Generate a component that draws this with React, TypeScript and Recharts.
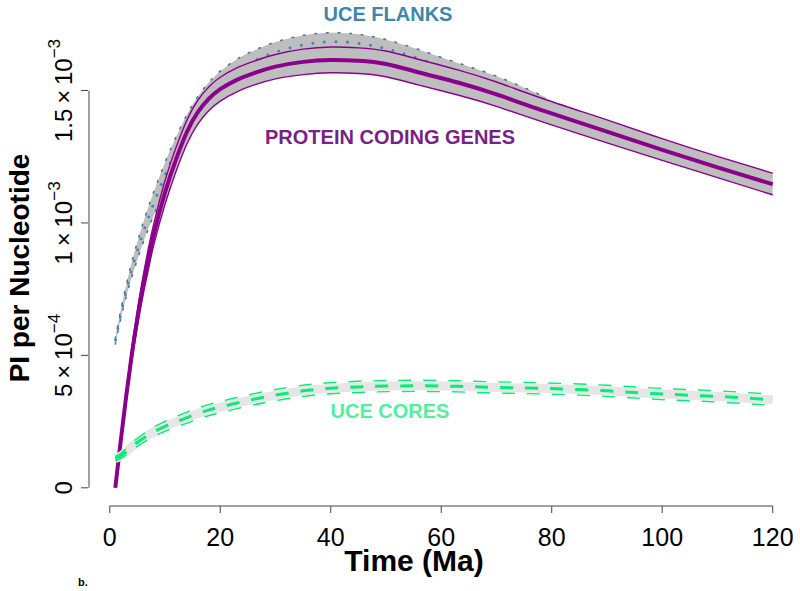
import React from 'react';
import { ComposedChart, Line, Area, XAxis, YAxis, ReferenceLine } from 'recharts';

// Time (Ma)
const times = [1, 2, 3, 4, 5, 6, 7, 8, 10, 12, 14, 16, 18, 20, 23, 26, 30, 35, 40, 45, 50, 56, 63, 70, 79, 90, 100, 110, 120];

// Protein coding genes (PI per nucleotide, in units of 1e-3)
const protMid = [0, 0.18, 0.35, 0.505, 0.64, 0.76, 0.865, 0.96, 1.115, 1.24, 1.345, 1.42, 1.47, 1.505, 1.54, 1.565, 1.59, 1.608, 1.615, 1.612, 1.6, 1.568, 1.53, 1.485, 1.42, 1.345, 1.276, 1.21, 1.146];
const protUp = [0, 0.19, 0.37, 0.53, 0.67, 0.795, 0.905, 1.0, 1.16, 1.285, 1.39, 1.465, 1.515, 1.55, 1.585, 1.61, 1.636, 1.656, 1.664, 1.661, 1.649, 1.617, 1.578, 1.532, 1.465, 1.389, 1.318, 1.251, 1.188];
const protLo = [0, 0.17, 0.33, 0.48, 0.61, 0.725, 0.825, 0.92, 1.07, 1.195, 1.3, 1.375, 1.425, 1.46, 1.495, 1.52, 1.544, 1.56, 1.567, 1.564, 1.552, 1.52, 1.483, 1.44, 1.377, 1.302, 1.236, 1.171, 1.106];

// UCE flanks (units of 1e-3), t = 1 .. 79
const flMid = [0.553, 0.655, 0.745, 0.825, 0.895, 0.96, 1.02, 1.075, 1.18, 1.275, 1.36, 1.43, 1.485, 1.528, 1.575, 1.61, 1.645, 1.672, 1.684, 1.678, 1.658, 1.62, 1.57, 1.52, 1.44];
const flUp = [0.563, 0.671, 0.767, 0.853, 0.928, 0.997, 1.061, 1.119, 1.228, 1.325, 1.41, 1.479, 1.532, 1.573, 1.618, 1.65, 1.683, 1.708, 1.718, 1.712, 1.692, 1.654, 1.604, 1.554, 1.474];
const flLo = [0.543, 0.639, 0.723, 0.797, 0.862, 0.923, 0.979, 1.031, 1.132, 1.225, 1.31, 1.381, 1.438, 1.483, 1.532, 1.57, 1.607, 1.636, 1.65, 1.644, 1.624, 1.586, 1.536, 1.486, 1.406];

// UCE cores (units of 1e-3)
const coreMid = [0.11, 0.12, 0.137, 0.155, 0.172, 0.186, 0.2, 0.212, 0.232, 0.249, 0.265, 0.281, 0.294, 0.305, 0.32, 0.334, 0.35, 0.366, 0.376, 0.381, 0.384, 0.385, 0.383, 0.379, 0.375, 0.366, 0.354, 0.345, 0.332];
const coreUp = [0.118, 0.13, 0.149, 0.169, 0.187, 0.202, 0.217, 0.23, 0.251, 0.269, 0.286, 0.302, 0.315, 0.326, 0.341, 0.355, 0.371, 0.387, 0.397, 0.402, 0.405, 0.406, 0.404, 0.4, 0.396, 0.387, 0.375, 0.366, 0.353];
const coreLo = [0.102, 0.11, 0.125, 0.141, 0.157, 0.17, 0.183, 0.194, 0.213, 0.229, 0.244, 0.26, 0.273, 0.284, 0.299, 0.313, 0.329, 0.345, 0.355, 0.36, 0.363, 0.364, 0.362, 0.358, 0.354, 0.345, 0.333, 0.324, 0.311];

// Axis ticks
const xTicks = [0, 20, 40, 60, 80, 100, 120];
const yTicks = [0, 0.5, 1, 1.5];
const yTickMain = ['0', '5\u2009×\u200910', '1\u2009×\u200910', '1.5\u2009×\u200910'];
const yTickExp = ['', '\u22124', '\u22123', '\u22123'];

const X_DOMAIN: [number, number] = [-3.76, 124.76];
const Y_DOMAIN: [number, number] = [-0.0687, 1.785];

const FONT = '"Liberation Sans", Arial, Helvetica, sans-serif';
const CURVE = 'natural';

const data = times.map((t, i) => ({
  t,
  protMid: protMid[i],
  protUp: protUp[i],
  protLo: protLo[i],
  protBand: [protLo[i], protUp[i]],
  flMid: i < flMid.length ? flMid[i] : null,
  flUp: i < flUp.length ? flUp[i] : null,
  flLo: i < flLo.length ? flLo[i] : null,
  flBand: i < flMid.length ? [flLo[i], flUp[i]] : null,
  coreMid: coreMid[i],
  coreUp: coreUp[i],
  coreLo: coreLo[i],
}));

const XTick = (props: any) => {
  const { x, y, payload } = props;
  return (
    <g>
      <line x1={x} x2={x} y1={y} y2={y + 7} stroke="#444" strokeWidth={1} />
      <text x={x} y={y + 40} textAnchor="middle" fontSize={25} fontFamily={FONT} fill="#000">
        {payload.value}
      </text>
    </g>
  );
};

const YTick = (props: any) => {
  const { x, y, payload } = props;
  const idx = yTicks.indexOf(payload.value);
  return (
    <g>
      <line x1={x - 1} x2={x - 8} y1={y} y2={y} stroke="#444" strokeWidth={1} />
      <text
        transform={`translate(${x - 17},${y}) rotate(-90)`}
        textAnchor="middle"
        fontSize={24}
        fontFamily={FONT}
        fill="#000"
      >
        {yTickMain[idx]}
        {yTickExp[idx] ? (
          <tspan dy={-12} fontSize={17}>
            {yTickExp[idx]}
          </tspan>
        ) : null}
      </text>
    </g>
  );
};

export default function App() {
  return (
    <div style={{ position: 'fixed', left: 0, top: 0, width: 800, height: 591, background: '#fff' }}>
      <ComposedChart
        width={800}
        height={591}
        data={data}
        margin={{ top: 15, right: 1, bottom: 0, left: 0 }}
      >
        <XAxis
          type="number"
          dataKey="t"
          domain={X_DOMAIN}
          ticks={xTicks}
          allowDataOverflow
          axisLine={false}
          tickLine={false}
          tickSize={0}
          tickMargin={0}
          height={85}
          tick={<XTick />}
          interval={0}
        />
        <YAxis
          type="number"
          domain={Y_DOMAIN}
          ticks={yTicks}
          allowDataOverflow
          axisLine={false}
          tickLine={false}
          tickSize={0}
          tickMargin={0}
          width={89}
          tick={<YTick />}
          interval={0}
        />
        <ReferenceLine
          segment={[{ x: 0, y: Y_DOMAIN[0] }, { x: 120, y: Y_DOMAIN[0] }]}
          stroke="#444"
          strokeWidth={1}
          ifOverflow="visible"
        />
        <ReferenceLine
          segment={[{ x: X_DOMAIN[0], y: 0 }, { x: X_DOMAIN[0], y: 1.5 }]}
          stroke="#444"
          strokeWidth={1}
          ifOverflow="visible"
        />

        {/* UCE flanks */}
        <Area
          type={CURVE}
          dataKey="flBand"
          fill="#bebebe"
          fillOpacity={1}
          stroke="none"
          isAnimationActive={false}
          dot={false}
          activeDot={false}
          zIndex={101}
        />
        <Line type={CURVE} dataKey="flUp" stroke="#4a7896" strokeWidth={1.6} strokeDasharray="1.6 10" strokeLinecap="round" dot={false} activeDot={false} isAnimationActive={false} zIndex={102} />
        <Line type={CURVE} dataKey="flLo" stroke="#4a7896" strokeWidth={1.6} strokeDasharray="1.6 10" strokeLinecap="round" dot={false} activeDot={false} isAnimationActive={false} zIndex={102} />
        <Line type={CURVE} dataKey="flMid" stroke="#4682b4" strokeWidth={2.6} strokeDasharray="2.6 9" dot={false} activeDot={false} isAnimationActive={false} zIndex={103} />

        {/* Protein coding genes */}
        <Area
          type={CURVE}
          dataKey="protBand"
          fill="#bebebe"
          fillOpacity={1}
          stroke="none"
          isAnimationActive={false}
          dot={false}
          activeDot={false}
          zIndex={104}
        />
        <Line type={CURVE} dataKey="protUp" stroke="#8b008b" strokeWidth={1.4} dot={false} activeDot={false} isAnimationActive={false} zIndex={105} />
        <Line type={CURVE} dataKey="protLo" stroke="#8b008b" strokeWidth={1.4} dot={false} activeDot={false} isAnimationActive={false} zIndex={105} />
        <Line type={CURVE} dataKey="protMid" stroke="#8b008b" strokeWidth={4} dot={false} activeDot={false} isAnimationActive={false} zIndex={106} />

        {/* UCE cores */}
        <Line type={CURVE} dataKey="coreMid" stroke="#e6e6e6" strokeWidth={9} dot={false} activeDot={false} isAnimationActive={false} zIndex={107} />
        <Line type={CURVE} dataKey="coreUp" stroke="#00ee76" strokeWidth={1.4} strokeDasharray="13 12" dot={false} activeDot={false} isAnimationActive={false} zIndex={108} />
        <Line type={CURVE} dataKey="coreLo" stroke="#00ee76" strokeWidth={1.4} strokeDasharray="13 12" dot={false} activeDot={false} isAnimationActive={false} zIndex={108} />
        <Line type={CURVE} dataKey="coreMid" stroke="#00ee76" strokeWidth={3} strokeDasharray="13 12" dot={false} activeDot={false} isAnimationActive={false} zIndex={109} />
      </ComposedChart>

      <svg
        width={800}
        height={591}
        style={{ position: 'absolute', left: 0, top: 0, pointerEvents: 'none' }}
      >
        <text x={388} y={21} textAnchor="middle" fontSize={20} fontWeight="bold" fontFamily={FONT} fill="#3d87a9">
          UCE FLANKS
        </text>
        <text x={390} y={144} textAnchor="middle" fontSize={20} fontWeight="bold" fontFamily={FONT} fill="#7a1f85">
          PROTEIN CODING GENES
        </text>
        <text x={390} y={418} textAnchor="middle" fontSize={20} fontWeight="bold" fontFamily={FONT} fill="#52ef9e">
          UCE CORES
        </text>
        <text x={414} y={571} textAnchor="middle" fontSize={30} fontWeight="bold" fontFamily={FONT} fill="#000">
          Time (Ma)
        </text>
        <text
          transform="translate(29,268) rotate(-90)"
          textAnchor="middle"
          fontSize={28}
          fontWeight="bold"
          fontFamily={FONT}
          fill="#000"
        >
          PI per Nucleotide
        </text>
        <text x={78} y={586} fontSize={11} fontWeight="bold" fontFamily={FONT} fill="#000">
          b.
        </text>
      </svg>
    </div>
  );
}
